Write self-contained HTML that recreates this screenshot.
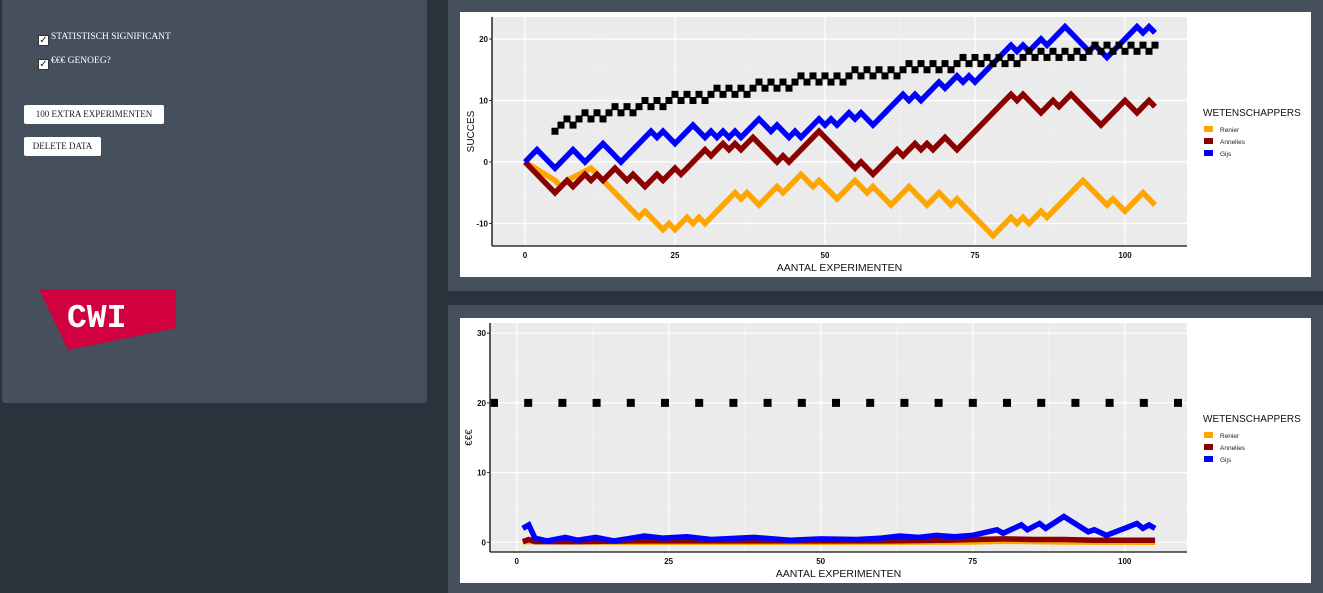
<!DOCTYPE html>
<html><head><meta charset="utf-8">
<style>
html,body{margin:0;padding:0;}
body{width:1323px;height:593px;background:#2b323c;position:relative;overflow:hidden;font-family:"Liberation Sans",sans-serif;}
.panel{position:absolute;background:#46505d;}
.cb{position:absolute;width:11px;height:11px;background:#fff;border:1px solid #333;box-sizing:border-box;font-size:10px;line-height:10px;text-align:center;color:#222;}
.lbl{position:absolute;color:#fff;font-family:"Liberation Serif",serif;font-size:9.5px;}
.btn{position:absolute;background:#fff;border-radius:2px;font-family:"Liberation Serif",serif;font-size:9px;color:#222;text-align:center;box-sizing:border-box;}
svg text{font-family:"Liberation Sans",sans-serif;}
</style></head><body>
<div class="panel" style="left:2px;top:0;width:425px;height:403px;border-radius:0 0 3px 3px;"></div>
<div class="cb" style="left:38px;top:35px;">✓</div>
<div class="lbl" style="left:51px;top:32px;">STATISTISCH SIGNIFICANT</div>
<div class="cb" style="left:38px;top:59px;">✓</div>
<div class="lbl" style="left:51px;top:56px;">€€€ GENOEG?</div>
<div class="btn" style="left:24px;top:105px;width:140px;height:19px;line-height:19px;">100 EXTRA EXPERIMENTEN</div>
<div class="btn" style="left:24px;top:137px;width:77px;height:19px;line-height:19px;">DELETE DATA</div>
<svg style="position:absolute;left:0;top:0" width="200" height="360">
<polygon points="39,289 176,289 176,328 68,350" fill="#d1003f"/>
<text x="67" y="327" style="font-family:'Liberation Mono',monospace;font-weight:bold;font-size:33px;" fill="#fff">CWI</text>
</svg>
<div class="panel" style="left:448px;top:0;width:875px;height:291px;"></div>
<div class="panel" style="left:448px;top:305px;width:875px;height:288px;"></div>
<div style="position:absolute;left:460px;top:12px;width:851px;height:265px;background:#fff;"></div>
<div style="position:absolute;left:460px;top:318px;width:851px;height:265px;background:#fff;"></div>
<svg id="chart" style="position:absolute;left:0;top:0" width="1323" height="593"></svg>
<script>
// ---- top chart data (SUCCES) ----
const renierX=[0,5,6,7,11,19,20,23,24,25,27,28,29,30,35,36,37,39,42,43,46,48,49,52,55,57,58,61,64,67,69,71,72,78,81,82,83,84,86,87,93,97,98,100,103,105];
const renierY=[0,-3,-4,-3,-1,-9,-8,-11,-10,-11,-9,-10,-9,-10,-5,-6,-5,-7,-4,-5,-2,-4,-3,-6,-3,-5,-4,-7,-4,-7,-5,-7,-6,-12,-9,-10,-9,-10,-8,-9,-3,-7,-6,-8,-5,-7];
const annX=[0,5,7,8,10,11,12,13,15,17,18,20,22,23,25,26,30,31,33,34,35,36,38,42,43,44,49,55,56,58,62,63,65,66,67,68,70,72,81,82,83,86,88,89,91,96,100,102,104,105];
const annY=[0,-5,-3,-4,-2,-3,-2,-3,-1,-3,-2,-4,-2,-3,-1,-2,2,1,3,2,3,2,4,0,1,0,5,-1,0,-2,2,1,3,2,3,2,4,2,11,10,11,8,10,9,11,6,10,8,10,9];
const gijsX=[0,2,5,8,10,13,16,21,22,23,25,28,30,31,32,33,34,35,36,39,41,42,44,45,46,49,50,51,52,54,55,56,58,63,64,65,66,69,70,72,73,74,75,81,82,83,84,86,87,90,94,95,97,102,103,104,105];
const gijsY=[0,2,-1,2,0,3,0,5,4,5,3,6,4,5,4,5,4,5,4,7,5,6,4,5,4,7,6,7,6,8,7,8,6,11,10,11,10,13,12,14,13,14,13,19,18,19,18,20,19,22,18,19,17,22,21,22,21];
const sigStartX=5;
const sigY=[5,6,7,6,7,8,7,8,7,8, 9,8,9,8,9,10,9,10,9,10, 11,10,11,10,11,10,11,12,11,12, 11,12,11,12,13,12,13,12,13,12, 13,14,13,14,13,14,13,14,13,14, 15,14,15,14,15,14,15,14,15,16, 15,16,15,16,15,16,15,16,17,16, 17,16,17,16,17,16,17,16,17,18, 17,18,17,18,17,18,17,18,17,18, 19,18,19,18,19,18,19,18,19,18,19];
const topYTicks=[-10,0,10,20];
const xTicks=[0,25,50,75,100];
// ---- bottom chart data (€€€) ----
const renier2X=[1,2,20,50,75,80,90,105];
const renier2Y=[0.1,0.1,0,0,0.05,0.15,0.05,0];
const ann2X=[1,2,3,10,20,30,40,50,60,70,80,85,90,95,100,105];
const ann2Y=[0.1,0.4,0.1,0.1,0.2,0.2,0.2,0.2,0.2,0.3,0.5,0.4,0.4,0.3,0.3,0.3];
const gijs2X=[1,2,3,5,8,10,13,16,21,24,28,32,39,45,50,56,60,63,66,69,72,75,79,80,83,84,86,87,90,94,95,97,100,102,103,104,105];
const gijs2Y=[2.0,2.5,0.6,0.2,0.7,0.3,0.7,0.2,0.9,0.6,0.8,0.4,0.7,0.3,0.5,0.4,0.6,0.9,0.7,1.0,0.8,1.0,1.8,1.3,2.5,1.8,2.7,2.0,3.7,1.5,1.8,1.0,2.0,2.7,2.0,2.5,2.0];
const budgetLine=[20];
const botYTicks=[0,10,20,30];
const legendNames=["Renier","Annelies","Gijs"];
const legendColors=["#ffa500","#8b0000","#0000ff"];

const svg=document.getElementById('chart');
const NS='http://www.w3.org/2000/svg';
function mk(tag,attrs,parent){const e=document.createElementNS(NS,tag);for(const k in attrs)e.setAttribute(k,attrs[k]);(parent||svg).appendChild(e);return e;}

function drawChart(cfg){
  const g=mk('g',{});
  
  
  const X=v=>cfg.x0+v*cfg.xs, Y=v=>cfg.y0-v*cfg.ys;
  const bg=mk('rect',{x:cfg.L,y:cfg.T,width:cfg.R-cfg.L,height:cfg.B-cfg.T,fill:'#ebebeb'},g);
  
  
  for(let i=0;i<xTicks.length;i++){const m=xTicks[i]+12.5;const px=X(m);if(px>cfg.L&&px<cfg.R)mk('line',{x1:px,x2:px,y1:cfg.T,y2:cfg.B,stroke:'#f5f5f5','stroke-width':0.6},g);}
  const yt=cfg.yTicks;const ystep=yt[1]-yt[0];
  for(let i=-1;i<yt.length;i++){const m=(i<0?yt[0]:yt[i])+(i<0?-ystep/2:ystep/2);const py=Y(m);if(py>cfg.T&&py<cfg.B)mk('line',{x1:cfg.L,x2:cfg.R,y1:py,y2:py,stroke:'#f5f5f5','stroke-width':0.6},g);}
  xTicks.forEach(t=>{const px=X(t);mk('line',{x1:px,x2:px,y1:cfg.T,y2:cfg.B,stroke:'#fff','stroke-width':1.2},g);
    const tl=mk('text',{x:px,y:cfg.B+12,'font-size':8,'text-anchor':'middle',fill:'#111','font-weight':'bold'},g);tl.textContent=t;
    
    });
  yt.forEach(t=>{const py=Y(t);mk('line',{x1:cfg.L,x2:cfg.R,y1:py,y2:py,stroke:'#fff','stroke-width':1.2},g);
    mk('line',{x1:cfg.L-3,x2:cfg.L,y1:py,y2:py,stroke:'#333','stroke-width':1},g);
    const tl=mk('text',{x:cfg.L-4,y:py+3,'font-size':8,'text-anchor':'end',fill:'#111','font-weight':'bold'},g);tl.textContent=t;
    
    });
  cfg.series.forEach((s,i)=>{
    const pts=s.x.map((xv,j)=>X(xv)+','+Y(s.y[j])).join(' ');
    const pl=mk('polyline',{points:pts,fill:'none',stroke:s.color,'stroke-width':5.5,'stroke-linejoin':'miter','stroke-miterlimit':4},g);
    
    
  });
  if(cfg.extra)cfg.extra(g,X,Y);
  const ax=mk('line',{x1:cfg.L,x2:cfg.R,y1:cfg.B,y2:cfg.B,stroke:'#333','stroke-width':1.6},g);
  
  
  const ay=mk('line',{x1:cfg.L,x2:cfg.L,y1:cfg.T,y2:cfg.B,stroke:'#333','stroke-width':1.6},g);
  
  
  const xt=mk('text',{x:(cfg.L+cfg.R)/2,y:cfg.B+25,'font-size':10.5,'text-anchor':'middle',fill:'#111'},g);xt.textContent='AANTAL EXPERIMENTEN';
  
  
  const ytl=mk('text',{x:0,y:0,'font-size':10,'text-anchor':'middle',fill:'#111',transform:`translate(${cfg.L-18},${(cfg.T+cfg.B)/2}) rotate(-90)`},g);ytl.textContent=cfg.ytitle;
  
  
  const lt=mk('text',{x:1203,y:cfg.legY,'font-size':10,fill:'#111'},g);lt.textContent='WETENSCHAPPERS';
  
  
  legendNames.forEach((n,i)=>{
    const yy=cfg.legY+15+i*12;
    const k=mk('rect',{x:1204,y:yy-5,width:9,height:6,fill:legendColors[i]},g);
    
    
    const t=mk('text',{x:1220,y:yy+1,'font-size':6.5,fill:'#222'},g);t.textContent=n;
    
    
  });
}

drawChart({name:'success-chart',L:492,R:1187,T:17,B:246,x0:525,xs:6,y0:162,ys:6.15,yTicks:topYTicks,ytitle:'SUCCES',legY:116,
  series:[{key:'renier',x:renierX,y:renierY,color:legendColors[0]},{key:'annelies',x:annX,y:annY,color:legendColors[1]},{key:'gijs',x:gijsX,y:gijsY,color:legendColors[2]}],
  extra:(g,X,Y)=>{sigY.forEach((v,i)=>{const r=mk('rect',{x:X(sigStartX+i)-3.5,y:Y(v)-3.5,width:7,height:7,fill:'#000'},g);
    
    });}
});
drawChart({name:'money-chart',L:490,R:1187,T:323,B:552,x0:516.7,xs:6.08,y0:542.3,ys:6.97,yTicks:botYTicks,ytitle:'€€€',legY:422,
  series:[{key:'renier',x:renier2X,y:renier2Y,color:legendColors[0]},{key:'annelies',x:ann2X,y:ann2Y,color:legendColors[1]},{key:'gijs',x:gijs2X,y:gijs2Y,color:legendColors[2]}],
  extra:(g,X,Y)=>{budgetLine.forEach(v=>{const l=mk('line',{x1:490,x2:1187,y1:Y(v),y2:Y(v),stroke:'#000','stroke-width':8,'stroke-dasharray':'8 26.2'},g);
    
    });}
});
</script>
</body></html>
